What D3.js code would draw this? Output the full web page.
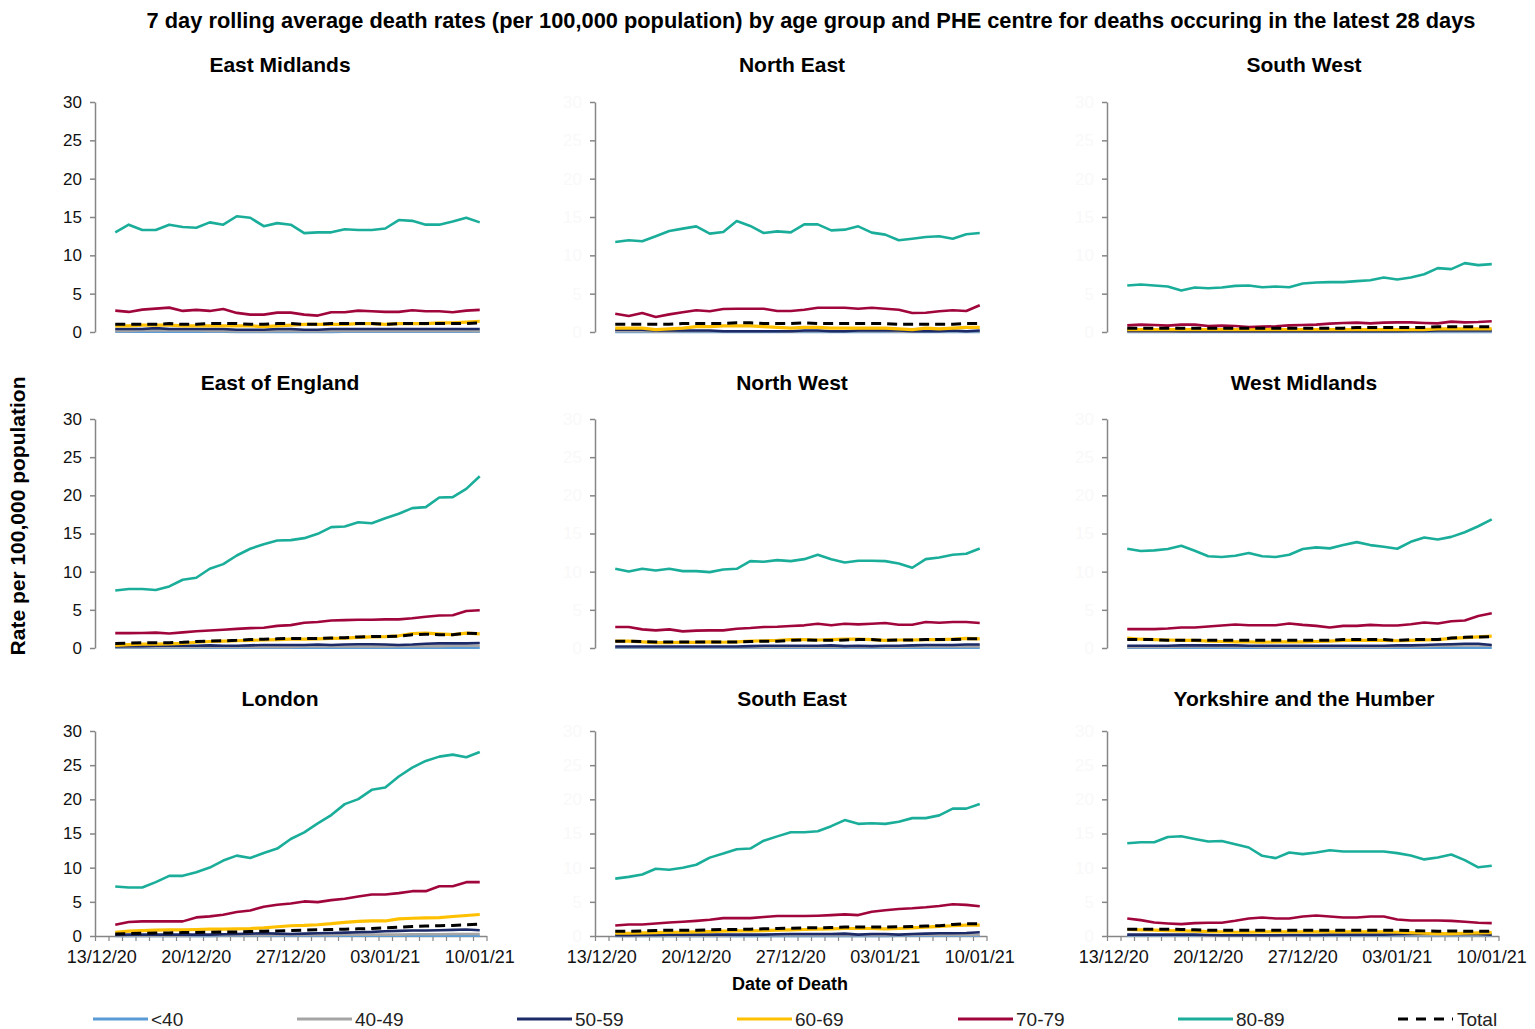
<!DOCTYPE html>
<html>
<head>
<meta charset="utf-8">
<script src="https://cdnjs.cloudflare.com/ajax/libs/d3/7.8.5/d3.min.js"></script>
<style>
body { margin: 0; background: #fff; }
svg { font-family: 'Liberation Sans', Arial, sans-serif; }
</style>
</head>
<body>
<svg id="chart" width="1535" height="1029"></svg>
<script>
// regions in reading order (row by row)
const regions = ['East Midlands', 'North East', 'South West',
  'East of England', 'North West', 'West Midlands',
  'London', 'South East', 'Yorkshire and the Humber']
const firstDay = '14/12/20'
const dayCount = 28
const tickLabels = ['13/12/20', '20/12/20', '27/12/20', '03/01/21', '10/01/21']
const yTicks = [0, 5, 10, 15, 20, 25, 30]
const ageGroups = ['<40', '40-49', '50-59', '60-69', '70-79', '80-89', 'Total']

// one row per region, 28 daily values
const under40 = [
  [0.03,0.03,0.04,0.04,0.03,0.03,0.03,0.03,0.03,0.02,0.02,0.02,0.02,0.02,0.02,0.02,0.02,0.03,0.03,0.03,0.03,0.03,0.03,0.03,0.03,0.03,0.03,0.03],
  [0.02,0.02,0.02,0.02,0.02,0.02,0.02,0.02,0.02,0.02,0.02,0.02,0.02,0.02,0.02,0.02,0.02,0.02,0.02,0.02,0.02,0.02,0.02,0.02,0.02,0.02,0.02,0.02],
  [0.02,0.02,0.02,0.02,0.02,0.02,0.02,0.02,0.02,0.02,0.02,0.02,0.02,0.02,0.02,0.02,0.02,0.02,0.02,0.02,0.02,0.02,0.02,0.02,0.02,0.02,0.02,0.02],
  [0.03,0.03,0.03,0.03,0.03,0.03,0.03,0.03,0.03,0.03,0.03,0.03,0.03,0.03,0.03,0.03,0.03,0.03,0.03,0.03,0.03,0.03,0.03,0.03,0.03,0.03,0.03,0.03],
  [0.03,0.03,0.03,0.03,0.03,0.03,0.03,0.03,0.03,0.03,0.03,0.03,0.03,0.03,0.03,0.03,0.03,0.03,0.03,0.03,0.03,0.03,0.03,0.03,0.03,0.03,0.03,0.03],
  [0.04,0.04,0.04,0.04,0.04,0.04,0.04,0.04,0.04,0.04,0.04,0.04,0.04,0.04,0.04,0.04,0.04,0.04,0.04,0.04,0.04,0.04,0.04,0.04,0.04,0.04,0.04,0.04],
  [0.02,0.02,0.02,0.02,0.02,0.02,0.02,0.02,0.03,0.03,0.03,0.03,0.03,0.03,0.03,0.03,0.03,0.04,0.04,0.04,0.04,0.04,0.04,0.04,0.04,0.04,0.04,0.04],
  [0.02,0.02,0.02,0.02,0.02,0.02,0.02,0.02,0.02,0.02,0.02,0.02,0.02,0.02,0.02,0.02,0.02,0.02,0.02,0.02,0.02,0.03,0.03,0.03,0.03,0.03,0.03,0.03],
  [0.03,0.03,0.03,0.03,0.03,0.03,0.03,0.03,0.03,0.03,0.03,0.03,0.03,0.03,0.03,0.03,0.03,0.03,0.03,0.03,0.03,0.03,0.03,0.03,0.03,0.03,0.03,0.03]
]
const age40to49 = [
  [0.15,0.15,0.2,0.2,0.25,0.2,0.2,0.15,0.15,0.1,0.1,0.1,0.15,0.15,0.1,0.1,0.15,0.15,0.15,0.15,0.15,0.15,0.15,0.15,0.15,0.15,0.15,0.1],
  [0.1,0.1,0.1,0.05,0.05,0.1,0.1,0.1,0.1,0.1,0.1,0.1,0.1,0.05,0.1,0.1,0.1,0.1,0.1,0.1,0.1,0.05,0.05,0.1,0.1,0.1,0.1,0.1],
  [0.05,0.05,0.05,0.05,0.05,0.05,0.05,0.05,0.05,0.05,0.05,0.05,0.05,0.05,0.05,0.05,0.05,0.1,0.1,0.1,0.1,0.1,0.1,0.1,0.1,0.1,0.1,0.1],
  [0.1,0.1,0.1,0.1,0.1,0.1,0.1,0.15,0.15,0.15,0.15,0.15,0.15,0.15,0.2,0.2,0.2,0.2,0.2,0.2,0.2,0.25,0.25,0.25,0.25,0.3,0.3,0.3],
  [0.1,0.1,0.1,0.1,0.1,0.1,0.1,0.1,0.1,0.1,0.1,0.1,0.15,0.15,0.15,0.15,0.15,0.15,0.15,0.15,0.15,0.15,0.2,0.2,0.2,0.2,0.2,0.2],
  [0.15,0.15,0.15,0.15,0.2,0.2,0.2,0.2,0.2,0.2,0.15,0.15,0.15,0.15,0.15,0.15,0.15,0.15,0.15,0.15,0.2,0.2,0.25,0.3,0.3,0.35,0.35,0.3],
  [0.05,0.05,0.05,0.05,0.05,0.05,0.1,0.1,0.1,0.1,0.1,0.1,0.15,0.15,0.15,0.15,0.15,0.2,0.2,0.2,0.2,0.2,0.25,0.25,0.25,0.3,0.3,0.3],
  [0.05,0.05,0.05,0.05,0.05,0.05,0.05,0.05,0.05,0.1,0.1,0.1,0.1,0.1,0.1,0.1,0.1,0.1,0.1,0.1,0.1,0.1,0.15,0.15,0.15,0.15,0.15,0.15],
  [0.1,0.1,0.1,0.1,0.1,0.1,0.05,0.05,0.05,0.05,0.05,0.05,0.05,0.1,0.1,0.1,0.1,0.1,0.1,0.1,0.1,0.1,0.1,0.15,0.1,0.1,0.1,0.1]
]
const age50to59 = [
  [0.4,0.4,0.4,0.5,0.4,0.4,0.4,0.4,0.4,0.3,0.3,0.3,0.4,0.4,0.3,0.3,0.4,0.4,0.4,0.4,0.4,0.4,0.4,0.4,0.4,0.4,0.4,0.4],
  [0.3,0.3,0.3,0.2,0.2,0.2,0.2,0.2,0.1,0.1,0.1,0.1,0.1,0.1,0.2,0.2,0.1,0.1,0.2,0.2,0.2,0.2,0.1,0.1,0.1,0.2,0.1,0.2],
  [0.15,0.15,0.15,0.15,0.1,0.1,0.1,0.1,0.1,0.1,0.1,0.1,0.1,0.1,0.1,0.1,0.1,0.1,0.1,0.1,0.1,0.15,0.15,0.2,0.2,0.2,0.2,0.2],
  [0.2,0.25,0.25,0.3,0.3,0.3,0.3,0.35,0.3,0.3,0.35,0.4,0.4,0.4,0.4,0.45,0.4,0.45,0.5,0.5,0.45,0.4,0.45,0.55,0.6,0.6,0.6,0.65],
  [0.2,0.2,0.2,0.2,0.2,0.2,0.2,0.2,0.2,0.2,0.25,0.3,0.3,0.3,0.3,0.3,0.35,0.25,0.3,0.25,0.3,0.3,0.35,0.4,0.4,0.4,0.45,0.45],
  [0.3,0.3,0.3,0.3,0.35,0.35,0.35,0.35,0.35,0.3,0.3,0.3,0.3,0.3,0.3,0.3,0.3,0.3,0.3,0.3,0.35,0.35,0.4,0.45,0.5,0.55,0.55,0.4],
  [0.15,0.2,0.2,0.2,0.2,0.2,0.2,0.2,0.25,0.3,0.35,0.4,0.35,0.3,0.35,0.4,0.45,0.5,0.55,0.6,0.7,0.75,0.8,0.8,0.85,0.9,0.95,0.85],
  [0.1,0.1,0.15,0.15,0.2,0.2,0.2,0.2,0.2,0.2,0.2,0.2,0.25,0.3,0.3,0.3,0.3,0.35,0.2,0.3,0.3,0.2,0.3,0.35,0.4,0.4,0.45,0.55],
  [0.2,0.2,0.2,0.2,0.2,0.2,0.15,0.1,0.1,0.1,0.1,0.1,0.15,0.15,0.15,0.2,0.2,0.2,0.2,0.2,0.25,0.3,0.35,0.35,0.3,0.35,0.3,0.2]
]
const age60to69 = [
  [0.8,0.8,0.9,0.9,0.9,0.8,0.8,0.8,0.8,0.8,0.8,0.7,0.8,0.9,1.0,1.0,1.0,1.0,1.1,1.1,1.0,1.1,1.1,1.1,1.2,1.2,1.3,1.4],
  [0.5,0.5,0.5,0.3,0.4,0.5,0.7,0.7,0.8,0.8,0.8,0.7,0.6,0.5,0.6,0.6,0.5,0.5,0.5,0.5,0.5,0.4,0.3,0.5,0.4,0.5,0.6,0.6],
  [0.3,0.3,0.3,0.3,0.3,0.3,0.3,0.3,0.3,0.3,0.3,0.3,0.3,0.3,0.3,0.3,0.3,0.3,0.3,0.3,0.3,0.3,0.3,0.4,0.4,0.4,0.4,0.4],
  [0.35,0.45,0.5,0.5,0.55,0.6,0.75,0.85,0.9,0.95,1.0,1.05,1.1,1.15,1.15,1.2,1.25,1.3,1.4,1.45,1.5,1.6,1.9,1.95,1.85,1.75,1.95,1.85],
  [0.9,0.9,0.8,0.7,0.7,0.75,0.75,0.8,0.75,0.8,0.9,0.95,1.0,1.1,1.1,1.05,1.1,1.15,1.15,1.1,1.0,1.05,1.05,1.1,1.1,1.15,1.25,1.2],
  [1.3,1.15,1.1,1.05,1.0,1.0,0.9,0.85,0.8,0.8,0.75,0.8,0.8,0.8,0.85,0.9,1.0,1.0,1.0,1.0,0.95,1.0,1.05,1.1,1.25,1.35,1.45,1.55],
  [0.55,0.7,0.8,0.85,0.9,0.9,0.95,1.0,1.0,1.05,1.1,1.2,1.35,1.5,1.55,1.65,1.8,2.0,2.15,2.2,2.2,2.5,2.6,2.65,2.7,2.85,3.0,3.15],
  [0.4,0.4,0.45,0.5,0.55,0.55,0.6,0.65,0.7,0.75,0.75,0.8,0.85,0.9,0.95,1.0,1.05,1.1,1.1,1.1,1.05,1.1,1.2,1.3,1.4,1.5,1.6,1.6],
  [0.95,0.9,0.85,0.8,0.75,0.7,0.65,0.6,0.55,0.55,0.6,0.6,0.6,0.6,0.6,0.6,0.6,0.6,0.6,0.6,0.55,0.5,0.4,0.35,0.35,0.4,0.45,0.5]
]
const age70to79 = [
  [2.79,2.62,2.92,3.05,3.18,2.75,2.88,2.75,3.0,2.49,2.27,2.27,2.53,2.53,2.27,2.14,2.57,2.57,2.79,2.7,2.62,2.62,2.83,2.7,2.7,2.57,2.79,2.88],
  [2.39,2.09,2.48,1.96,2.3,2.57,2.83,2.7,3.0,3.04,3.04,3.04,2.74,2.74,2.91,3.17,3.17,3.17,3.04,3.17,3.04,2.91,2.48,2.52,2.7,2.83,2.74,3.48],
  [0.87,0.96,0.92,0.83,0.96,0.96,0.79,0.83,0.79,0.65,0.7,0.74,0.87,0.92,0.96,1.09,1.18,1.22,1.13,1.22,1.26,1.26,1.18,1.13,1.35,1.26,1.31,1.4],
  [1.95,1.95,1.96,2.02,1.9,2.05,2.2,2.3,2.4,2.5,2.6,2.65,2.9,3.0,3.3,3.4,3.6,3.65,3.7,3.7,3.75,3.75,3.9,4.1,4.25,4.3,4.85,4.95],
  [2.75,2.75,2.44,2.31,2.44,2.18,2.27,2.31,2.31,2.53,2.62,2.75,2.79,2.88,2.97,3.18,2.97,3.18,3.1,3.18,3.27,3.05,3.05,3.4,3.31,3.4,3.4,3.27],
  [2.47,2.47,2.47,2.56,2.69,2.69,2.82,2.95,3.08,2.99,2.99,2.99,3.21,3.03,2.9,2.69,2.9,2.9,3.03,2.95,2.95,3.12,3.34,3.21,3.51,3.6,4.2,4.55],
  [1.65,2.04,2.14,2.14,2.14,2.14,2.72,2.87,3.11,3.5,3.74,4.28,4.57,4.76,5.06,4.96,5.25,5.44,5.79,6.08,6.08,6.27,6.56,6.56,7.29,7.29,7.88,7.88],
  [1.53,1.68,1.68,1.83,1.98,2.08,2.22,2.37,2.62,2.62,2.62,2.77,2.92,2.92,2.92,2.97,3.06,3.16,3.06,3.56,3.76,3.95,4.05,4.2,4.4,4.65,4.55,4.35],
  [2.56,2.32,1.98,1.84,1.74,1.88,1.93,1.93,2.22,2.56,2.71,2.56,2.56,2.85,3.0,2.85,2.71,2.71,2.85,2.85,2.42,2.27,2.27,2.27,2.22,2.08,1.93,1.88]
]
const age80to89 = [
  [13.0,14.0,13.3,13.3,14.0,13.7,13.6,14.3,14.0,15.1,14.9,13.8,14.2,14.0,12.9,13.0,13.0,13.4,13.3,13.3,13.5,14.6,14.5,14.0,14.0,14.4,14.9,14.3],
  [11.74,11.96,11.83,12.48,13.17,13.48,13.78,12.83,13.04,14.48,13.83,12.91,13.13,13.0,14.04,14.04,13.26,13.35,13.78,12.96,12.7,11.96,12.17,12.39,12.48,12.17,12.74,12.91],
  [6.06,6.19,6.06,5.93,5.41,5.8,5.71,5.8,6.02,6.06,5.84,5.93,5.84,6.32,6.45,6.5,6.5,6.63,6.76,7.11,6.85,7.11,7.54,8.33,8.2,8.98,8.72,8.85],
  [7.54,7.72,7.72,7.6,8.07,8.94,9.2,10.38,10.99,12.12,13.0,13.6,14.09,14.13,14.39,14.96,15.83,15.92,16.48,16.35,17.0,17.58,18.32,18.45,19.71,19.76,20.85,22.5],
  [10.38,10.03,10.38,10.16,10.38,10.07,10.07,9.94,10.29,10.38,11.38,11.3,11.51,11.38,11.64,12.21,11.64,11.21,11.43,11.43,11.38,11.08,10.51,11.64,11.86,12.21,12.34,13.04],
  [13.0,12.7,12.79,12.96,13.39,12.74,12.01,11.92,12.09,12.44,12.01,11.92,12.22,12.96,13.18,13.05,13.48,13.87,13.48,13.26,13.0,13.91,14.48,14.22,14.56,15.17,15.95,16.86],
  [7.24,7.1,7.1,7.88,8.8,8.8,9.33,10.01,11.04,11.76,11.42,12.15,12.79,14.19,15.17,16.48,17.7,19.3,20.03,21.39,21.73,23.34,24.65,25.62,26.25,26.54,26.16,26.93],
  [8.4,8.65,9.0,9.84,9.69,9.99,10.43,11.47,12.06,12.7,12.8,13.94,14.58,15.18,15.18,15.32,16.07,16.96,16.41,16.51,16.41,16.71,17.25,17.25,17.65,18.64,18.64,19.33],
  [13.57,13.72,13.72,14.49,14.59,14.2,13.82,13.91,13.43,12.95,11.74,11.4,12.22,11.98,12.22,12.56,12.37,12.37,12.37,12.37,12.13,11.79,11.21,11.5,11.93,11.11,10.05,10.29]
]
const total = [
  [1.0,1.0,1.0,1.0,1.1,1.0,1.0,1.1,1.1,1.1,1.0,1.0,1.1,1.1,1.0,1.0,1.1,1.1,1.1,1.1,1.0,1.1,1.1,1.1,1.1,1.1,1.1,1.2],
  [1.0,1.0,1.0,1.0,1.0,1.1,1.1,1.1,1.1,1.2,1.2,1.1,1.1,1.1,1.2,1.1,1.1,1.1,1.1,1.1,1.1,1.0,1.0,1.0,1.0,1.0,1.1,1.1],
  [0.5,0.5,0.5,0.5,0.5,0.5,0.5,0.5,0.5,0.5,0.5,0.5,0.5,0.5,0.5,0.5,0.5,0.6,0.6,0.6,0.6,0.6,0.6,0.7,0.7,0.7,0.7,0.7],
  [0.6,0.65,0.7,0.7,0.7,0.75,0.85,0.9,0.95,1.0,1.1,1.15,1.2,1.25,1.25,1.25,1.3,1.35,1.45,1.5,1.5,1.55,1.75,1.8,1.75,1.75,1.95,1.9],
  [0.9,0.9,0.85,0.8,0.8,0.8,0.8,0.8,0.8,0.8,0.85,0.9,0.9,1.0,1.05,1.0,1.0,1.05,1.1,1.1,1.0,1.05,1.05,1.1,1.1,1.1,1.2,1.2],
  [1.1,1.1,1.1,1.0,1.0,1.0,1.0,1.0,1.0,1.0,1.0,1.0,1.0,1.0,1.0,1.0,1.1,1.1,1.1,1.1,1.0,1.1,1.1,1.1,1.3,1.4,1.45,1.5],
  [0.3,0.35,0.4,0.45,0.45,0.5,0.5,0.55,0.6,0.6,0.65,0.7,0.75,0.8,0.85,0.9,0.95,1.0,1.05,1.1,1.2,1.3,1.4,1.45,1.5,1.55,1.65,1.75],
  [0.7,0.7,0.75,0.8,0.85,0.85,0.85,0.9,0.95,0.95,1.0,1.05,1.1,1.15,1.2,1.2,1.25,1.3,1.3,1.3,1.3,1.35,1.4,1.45,1.5,1.7,1.8,1.8],
  [1.0,1.0,1.0,1.0,0.95,0.9,0.85,0.85,0.85,0.85,0.85,0.85,0.85,0.85,0.85,0.85,0.85,0.85,0.85,0.85,0.85,0.8,0.75,0.7,0.75,0.7,0.7,0.7]
]

const seriesData = [under40, age40to49, age50to59, age60to69, age70to79, age80to89, total]
const colours = ['#5b9bd5', '#a5a5a5', '#1c2a68', '#ffc000', '#a0063c', '#1aae9a', '#000000']
const widths = [2.6, 2.6, 2.6, 3.2, 2.6, 2.6, 3]

// layout of the 3x3 grid
const colX = [95, 595, 1107]
const rowTop = [102, 419, 731]
const rowBottom = [332, 648, 936]
const titleY = [72, 390, 706]
const titleX = [280, 792, 1304]
const legendX = [93, 297, 517, 737, 958, 1178, 1398]

const parseDay = d3.timeParse('%d/%m/%y')
const start = parseDay(firstDay)
const days = d3.range(dayCount).map(i => d3.timeHour.offset(d3.timeDay.offset(start, i), 12))
const axisStart = d3.timeDay.offset(start, -1)
const axisEnd = d3.timeDay.offset(start, dayCount)

const svg = d3.select('#chart')

svg.append('text')
  .attr('x', 811)
  .attr('y', 28)
  .attr('text-anchor', 'middle')
  .attr('font-size', 21.8)
  .attr('font-weight', 'bold')
  .text('7 day rolling average death rates (per 100,000 population) by age group and PHE centre for deaths occuring in the latest 28 days')

regions.forEach((name, r) => {
  const col = r % 3
  const row = Math.floor(r / 3)
  const x0 = colX[col]

  const x = d3.scaleTime()
    .domain([axisStart, axisEnd])
    .range([x0, x0 + 29 * 13.5])

  const y = d3.scaleLinear()
    .domain([0, 30])
    .range([rowBottom[row], rowTop[row]])

  const g = svg.append('g')

  g.append('text')
    .attr('x', titleX[col])
    .attr('y', titleY[row])
    .attr('text-anchor', 'middle')
    .attr('font-size', 21)
    .attr('font-weight', 'bold')
    .text(name)

  const yAxis = g.append('g')
    .attr('transform', 'translate(' + x0 + ',0)')
    .call(d3.axisLeft(y).tickValues(yTicks).tickSize(5).tickSizeOuter(0).tickPadding(8))
  yAxis.select('.domain').attr('stroke', '#868686').attr('stroke-width', 1.5)
  yAxis.selectAll('.tick line').attr('stroke', '#868686').attr('stroke-width', 1.5)
  yAxis.selectAll('.tick text')
    .attr('font-size', 17)
    .attr('font-family', 'Liberation Sans, Arial, sans-serif')
    .attr('fill', col === 0 ? '#111' : '#f9f9f9')

  if (row === 2) {
    const xAxis = g.append('g')
      .attr('transform', 'translate(0,' + rowBottom[row] + ')')
      .call(d3.axisBottom(x).tickValues(d3.timeDay.range(axisStart, d3.timeDay.offset(axisEnd, 1))).tickSize(5).tickSizeOuter(0).tickFormat(''))
    xAxis.select('.domain').attr('stroke', '#868686').attr('stroke-width', 1.5)
    xAxis.selectAll('.tick line').attr('stroke', '#868686').attr('stroke-width', 1.2)

    g.selectAll('.xlabel')
      .data(tickLabels)
      .enter()
      .append('text')
      .attr('class', 'xlabel')
      .attr('x', d => x(d3.timeHour.offset(parseDay(d), 12)))
      .attr('y', rowBottom[row] + 27)
      .attr('text-anchor', 'middle')
      .attr('font-size', 18)
      .attr('fill', '#111')
      .text(d => d)
  }

  const line = d3.line()
    .x((d, i) => x(days[i]))
    .y(d => y(d))

  seriesData.forEach((s, k) => {
    g.append('path')
      .datum(s[r])
      .attr('fill', 'none')
      .attr('stroke', colours[k])
      .attr('stroke-width', widths[k])
      .attr('stroke-dasharray', k === 6 ? '10,6' : null)
      .attr('stroke-linejoin', 'round')
      .attr('d', line)
  })
})

// shared axis titles
svg.append('text')
  .attr('transform', 'translate(25,516) rotate(-90)')
  .attr('text-anchor', 'middle')
  .attr('font-size', 21)
  .attr('font-weight', 'bold')
  .text('Rate per 100,000 population')

svg.append('text')
  .attr('x', 790)
  .attr('y', 990)
  .attr('text-anchor', 'middle')
  .attr('font-size', 18)
  .attr('font-weight', 'bold')
  .text('Date of Death')

// legend
const legend = svg.selectAll('.legend')
  .data(ageGroups)
  .enter()
  .append('g')
  .attr('class', 'legend')
  .attr('transform', (d, i) => 'translate(' + legendX[i] + ',1019)')

legend.append('line')
  .attr('x1', 0)
  .attr('x2', 55)
  .attr('stroke', (d, i) => colours[i])
  .attr('stroke-width', 3)
  .attr('stroke-dasharray', (d, i) => i === 6 ? '10,8' : null)

legend.append('text')
  .attr('x', (d, i) => i === 6 ? 59 : 58)
  .attr('y', 7)
  .attr('font-size', 19)
  .attr('fill', '#222')
  .text(d => d)
</script>
</body>
</html>
